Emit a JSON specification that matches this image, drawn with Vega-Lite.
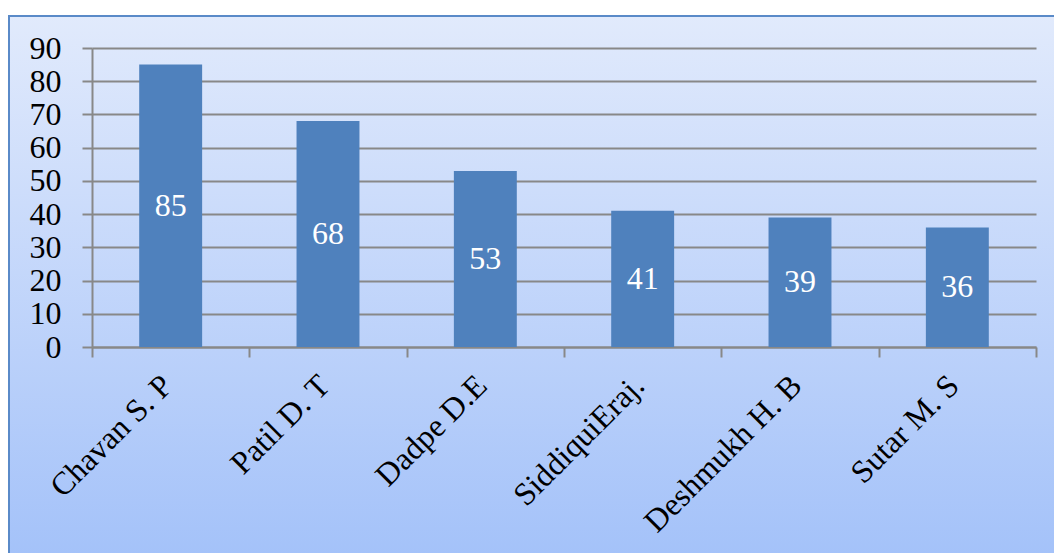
{
  "$schema": "https://vega.github.io/schema/vega-lite/v6.json",
  "width": 1047,
  "height": 539,
  "autosize": {"type": "none"},
  "padding": {"left": 9, "top": 16, "right": 0, "bottom": 0},
  "background": "white",
  "config": {
    "font": "Liberation Serif",
    "view": {
      "fill": {
        "gradient": "linear",
        "x1": 0, "y1": 0, "x2": 0, "y2": 1,
        "stops": [
          {"offset": 0, "color": "#E1EAFC"},
          {"offset": 1, "color": "#A4C2F9"}
        ]
      },
      "stroke": "#5A8AC8",
      "strokeWidth": 2
    }
  },
  "data": {
    "values": [
      {"name": "Chavan S. P", "value": 85},
      {"name": "Patil D. T", "value": 68},
      {"name": "Dadpe D.E", "value": 53},
      {"name": "SiddiquiEraj.", "value": 41},
      {"name": "Deshmukh H. B", "value": 39},
      {"name": "Sutar M. S", "value": 36}
    ]
  },
  "encoding": {
    "x": {
      "field": "name",
      "type": "nominal",
      "sort": null,
      "scale": {"range": [83, 1027], "paddingInner": 0, "paddingOuter": 0},
      "axis": {
        "title": null,
        "offset": -208,
        "tickBand": "extent",
        "tickSize": 10,
        "tickColor": "#888888",
        "tickWidth": 2,
        "domainColor": "#888888",
        "domainWidth": 2,
        "labelAngle": -45,
        "labelAlign": "right",
        "labelBaseline": "middle",
        "labelFont": "Liberation Serif",
        "labelFontSize": 32,
        "labelColor": "black",
        "labelPadding": 23,
        "labelOffset": -4,
        "labelOverlap": false,
        "labelLimit": 0,
        "grid": false
      }
    }
  },
  "layer": [
    {
      "mark": {"type": "bar", "color": "#4F81BD", "width": {"band": 0.4}},
      "encoding": {
        "y": {
          "field": "value",
          "type": "quantitative",
          "scale": {"domain": [0, 90], "range": [331, 32], "nice": false},
          "axis": {
            "title": null,
            "offset": -83,
            "values": [0, 10, 20, 30, 40, 50, 60, 70, 80, 90],
            "grid": true,
            "gridColor": "#888888",
            "gridWidth": 2,
            "tickSize": 10,
            "tickColor": "#888888",
            "tickWidth": 2,
            "domainColor": "#888888",
            "domainWidth": 2,
            "labelFont": "Liberation Serif",
            "labelFontSize": 32,
            "labelColor": "black",
            "labelPadding": 21
          }
        }
      }
    },
    {
      "mark": {"type": "text", "color": "white", "fontSize": 32, "font": "Liberation Serif", "baseline": "middle"},
      "encoding": {
        "y": {"field": "value", "type": "quantitative", "stack": "zero", "bandPosition": 0.5},
        "text": {"field": "value", "type": "quantitative"}
      }
    }
  ]
}
